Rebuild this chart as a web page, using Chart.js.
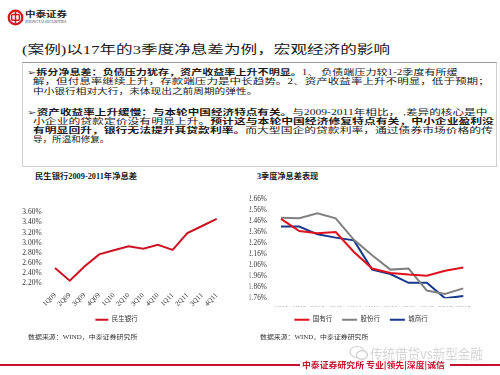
<!DOCTYPE html>
<html>
<head>
<meta charset="utf-8">
<script src="https://cdn.jsdelivr.net/npm/chart.js@4.4.1/dist/chart.umd.min.js"></script>
<style>
body{margin:0;width:500px;height:375px;position:relative;background:#fff;overflow:hidden;
  font-family:"Liberation Serif","Noto Sans CJK SC","DejaVu Sans",serif;color:#1a1a1a}
.t{position:absolute;white-space:nowrap;transform-origin:0 50%;line-height:10px;height:10px}
.box{position:absolute;left:22px;top:62px;width:473px;height:103px;border:1px solid #cfcfcf;border-top-color:#9a9a9a}
.ln{font-size:7.6px}
.ln b{font-weight:bold}
.src{font-size:6px;color:#333}
.ctitle{font-size:7.5px;font-weight:bold}
.rule{position:absolute;height:2px;background:#C8102E;top:364px}
canvas{position:absolute}
</style>
</head>
<body>

<!-- logo -->
<svg style="position:absolute;left:7px;top:9px" width="17" height="17" viewBox="0 0 17 17">
  <circle cx="8.5" cy="8.5" r="6.8" fill="none" stroke="#D7141A" stroke-width="2.2"/>
  <rect x="4.6" y="5.6" width="7.8" height="5.6" rx="1.2" fill="none" stroke="#D7141A" stroke-width="1.5"/>
  <line x1="8.5" y1="2.5" x2="8.5" y2="14.5" stroke="#D7141A" stroke-width="1.5"/>
</svg>
<div class="t fit" data-x="25" data-y="15" data-r="67" style="font-size:7.5px;font-weight:bold;color:#222">中泰证券</div>
<div class="t fit" data-x="25" data-y="21.5" data-r="67" style="font-size:3.5px;color:#444">ZHONGTAI SECURITIES</div>

<div class="t fit" data-x="22" data-y="50" data-r="390" style="font-size:12px">(案例)以17年的3季度净息差为例，宏观经济的影响</div>

<div class="box"></div>
<div class="t ln fit" data-x="26.7" data-y="73.3" data-r="458"><b>➢拆分净息差：负债压力犹存，资产收益率上升不明显。</b>1、 负债端压力较1-2季度有所缓</div>
<div class="t ln fit" data-x="33.3" data-y="82.3" data-r="490">解，但付息率继续上升，存款端压力是中长趋势。2、资产收益率上升不明显，低于预期；</div>
<div class="t ln fit" data-x="33.3" data-y="91.7" data-r="257">中小银行相对大行，未体现出之前周期的弹性。</div>
<div class="t ln fit" data-x="26.7" data-y="112.7" data-r="487"><b>➢资产收益率上升缓慢：与本轮中国经济特点有关。</b>与2009-2011年相比， ,差异的核心是中</div>
<div class="t ln fit" data-x="33.3" data-y="122" data-r="494">小企业的贷款定价没有明显上升。<b>预计这与本轮中国经济修复特点有关，中小企业盈利没</b></div>
<div class="t ln fit" data-x="33.3" data-y="131" data-r="493"><b>有明显回升，银行无法提升其贷款利率。</b>而大型国企的贷款利率，通过债券市场价格的传</div>
<div class="t ln fit" data-x="33.3" data-y="140.3" data-r="110">导，所温和修复。</div>

<div class="t ctitle fit" data-x="35" data-y="176.7" data-r="137">民生银行2009-2011年净息差</div>
<div class="t ctitle fit" data-x="257" data-y="176.7" data-r="318">3季度净息差表现</div>

<canvas id="msChart" width="245" height="138" style="left:0;top:195px"></canvas>
<canvas id="q3Chart" width="245" height="148" style="left:240px;top:185px"></canvas>

<div class="t src fit" data-x="28" data-y="337" data-r="137">数据来源：WIND，中泰证券研究所</div>
<div class="t src fit" data-x="260" data-y="337.3" data-r="368">数据来源：WIND，中泰证券研究所</div>

<!-- watermark -->
<svg style="position:absolute;left:349px;top:345px" width="20" height="16" viewBox="0 0 20 16">
  <ellipse cx="8" cy="7" rx="7" ry="5.5" fill="none" stroke="#cfcfcf" stroke-width="1.2"/>
  <ellipse cx="13" cy="10" rx="5.5" ry="4.3" fill="#fff" stroke="#cfcfcf" stroke-width="1.2"/>
</svg>
<div class="t fit" data-x="370" data-y="353" data-r="483" style="font-size:14px;color:#d6d6d6;font-family:'Noto Sans CJK SC',sans-serif">传统借贷vs新型金融</div>

<div class="rule" style="left:0;width:300px"></div>
<div class="rule" style="left:450px;width:50px"></div>
<div class="t fit" data-x="302" data-y="365" data-r="445" style="font-size:8px;font-weight:bold;color:#C8102E;font-family:'Noto Sans CJK SC',sans-serif">中泰证券研究所 专业|领先|深度|诚信</div>

<script>
// 民生银行 2009-2011 净息差 (%)
var msQuarters = ['1Q09','2Q09','3Q09','4Q09','1Q10','2Q10','3Q10','4Q10','1Q11','2Q11','3Q11','4Q11'];
var msNim = [2.50, 2.25, 2.53, 2.77, 2.85, 2.93, 2.88, 2.96, 2.86, 3.19, 3.33, 3.47];

// 3季度净息差表现 (%)
var q3Periods = ['1Q15','1H15','3Q15','2015','1Q16','1H16','3Q16','2016','1Q17','2Q17','3Q17'];
var stateBanks = [2.48, 2.37, 2.35, 2.36, 2.18, 2.03, 1.99, 1.975, 1.965, 2.01, 2.04];
var jointStockBanks = [2.49, 2.485, 2.53, 2.485, 2.29, 2.15, 2.02, 2.03, 1.83, 1.80, 1.85];
var cityBanks = [2.41, 2.41, 2.34, 2.31, 2.285, 2.02, 1.98, 1.90, 1.90, 1.76, 1.78];

// squeeze / stretch text lines to the widths of the slide
document.querySelectorAll('.fit').forEach(function(el){
    var x = parseFloat(el.dataset.x), y = parseFloat(el.dataset.y), r = parseFloat(el.dataset.r);
    el.style.left = x + 'px';
    el.style.top = (y - 5) + 'px';
    var w = el.offsetWidth;
    el.style.transform = 'scaleX(' + ((r - x) / w) + ')';
});

Chart.defaults.font.family = '"Liberation Serif","Noto Sans CJK SC",serif';
Chart.defaults.color = '#333';

function pct(v){ return v.toFixed(2) + '%'; }

new Chart(document.getElementById('msChart'), {
    type: 'line',
    data: {
        labels: msQuarters,
        datasets: [{
            label: '民生银行',
            data: msNim,
            borderColor: '#CC1222',
            backgroundColor: '#CC1222',
            borderWidth: 2,
            pointRadius: 0,
            tension: 0
        }]
    },
    options: {
        responsive: false,
        animation: false,
        layout: {padding: {left: 8.9, right: 20.9, top: 17.3, bottom: 0}},
        plugins: {
            tooltip: {enabled: false},
            legend: {
                position: 'bottom',
                labels: {usePointStyle: true, pointStyle: 'line', pointStyleWidth: 13,
                         font: {size: 6.5}, color: '#333', padding: 10}
            }
        },
        scales: {
            x: {
                offset: true,
                grid: {display: false, drawTicks: false},
                border: {display: false},
                ticks: {minRotation: 45, maxRotation: 45, autoSkip: false, font: {size: 7}, padding: 8},
                afterFit: function(s){ s.height = 23.2; }
            },
            y: {
                min: 2.2, max: 3.6,
                grid: {display: false, drawTicks: false},
                border: {display: false},
                ticks: {stepSize: 0.2, autoSkip: false, callback: pct, font: {size: 7.5}, padding: 6},
                afterFit: function(s){ s.width = 38.8; }
            }
        }
    }
});

new Chart(document.getElementById('q3Chart'), {
    type: 'line',
    data: {
        labels: q3Periods,
        datasets: [
            {label: '国有行', data: stateBanks, borderColor: '#E0101E', backgroundColor: '#E0101E',
             borderWidth: 2, pointRadius: 0, tension: 0},
            {label: '股份行', data: jointStockBanks, borderColor: '#808080', backgroundColor: '#808080',
             borderWidth: 2, pointRadius: 0, tension: 0},
            {label: '城商行', data: cityBanks, borderColor: '#17388C', backgroundColor: '#17388C',
             borderWidth: 2, pointRadius: 0, tension: 0}
        ]
    },
    options: {
        responsive: false,
        animation: false,
        layout: {padding: {left: 9.6, right: 12.6, top: 14, bottom: 0}},
        plugins: {
            tooltip: {enabled: false},
            legend: {
                position: 'bottom',
                labels: {usePointStyle: true, pointStyle: 'line', pointStyleWidth: 15,
                         font: {size: 6.5}, color: '#333', padding: 10}
            }
        },
        scales: {
            x: {
                offset: true,
                grid: {display: false, drawTicks: false},
                border: {display: false},
                ticks: {maxRotation: 0, autoSkip: false, font: {size: 6.5}, padding: 6},
                afterFit: function(s){ s.height = 8.2; }
            },
            y: {
                min: 1.76, max: 2.66,
                grid: {display: false, drawTicks: false},
                border: {display: false},
                ticks: {stepSize: 0.1, autoSkip: false, callback: pct, font: {size: 7.3}, padding: 5},
                afterFit: function(s){ s.width = 22.3; }
            }
        }
    }
});
</script>
</body>
</html>
